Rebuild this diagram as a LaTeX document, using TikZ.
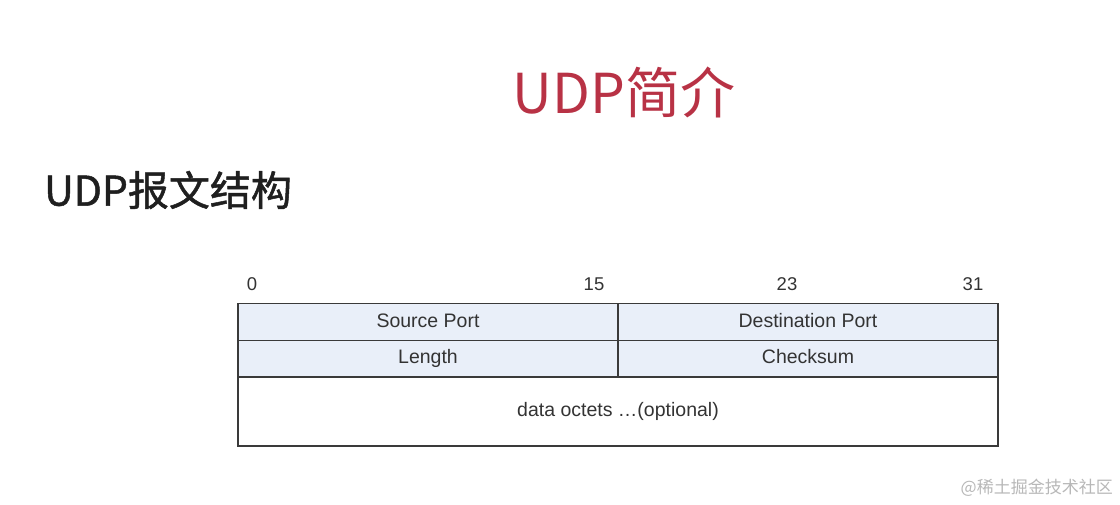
\documentclass[tikz,border=0pt]{standalone}
\usepackage{fontspec}
\setmainfont{Liberation Sans}
\newfontfamily\cjk{Noto Sans CJK SC}
\newfontfamily\cjkheavy{Noto Sans CJK SC}[FakeBold=1.2]
\definecolor{titlered}{HTML}{B83245}
\definecolor{cellblue}{HTML}{E9EFF9}
\definecolor{edgegray}{HTML}{3A3A3A}
\definecolor{textgray}{HTML}{333333}
\definecolor{wmgray}{HTML}{B8B8B8}
\begin{document}
\begin{tikzpicture}[x=1pt,y=-1pt,
  cell/.style={draw=edgegray, line width=1.3pt, inner sep=0pt, outer sep=0pt,
    font=\fontsize{19.5}{21}\selectfont, text=textgray, text height=14pt, text depth=4pt},
  hdr/.style={fill=cellblue, minimum width=380pt, minimum height=36.5pt},
  bitlabel/.style={font=\fontsize{18.5}{20}\selectfont, text=textgray, inner sep=0pt}]
\fill[white] (0,0) rectangle (1120,505);
\useasboundingbox (0,0) rectangle (1120,505);
\node[font=\cjk\fontsize{55}{60}\selectfont, text=titlered, inner sep=0pt] (title) at (624,92) {UDP简介};
\node[font=\cjkheavy\fontsize{41}{45}\selectfont, text=black!88, inner sep=0pt, anchor=west] (sub) at (44,190) {UDP报文结构};
\node[bitlabel] (b0) at (252,284) {0};
\node[bitlabel] (b15) at (594,284) {15};
\node[bitlabel] (b23) at (787,284) {23};
\node[bitlabel] (b31) at (973,284) {31};
\node[cell,hdr] (sp) at (428,322) {Source Port};
\node[cell,hdr] (dp) at (808,322) {Destination Port};
\node[cell,hdr] (len) at (428,358.5) {Length};
\node[cell,hdr] (cs) at (808,358.5) {Checksum};
\node[cell, minimum width=760pt, minimum height=69pt] (data) at (618,411.5) {data octets …(optional)};
\node[font=\cjk\fontsize{17}{19}\selectfont, text=wmgray, inner sep=0pt, anchor=east] (wm) at (1113,488) {@稀土掘金技术社区};
\end{tikzpicture}
\end{document}
